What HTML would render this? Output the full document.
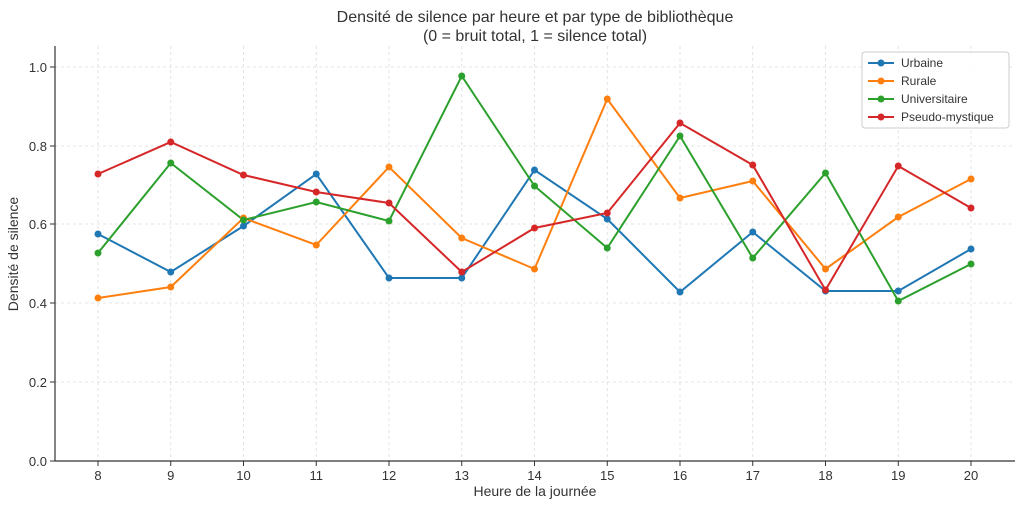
<!DOCTYPE html>
<html><head><meta charset="utf-8"><style>
html,body{margin:0;padding:0;background:#fff;}
svg{display:block;font-family:"Liberation Sans","DejaVu Sans",sans-serif;}
</style></head><body>
<svg width="1023" height="505" viewBox="0 0 1023 505" xmlns="http://www.w3.org/2000/svg">
<rect width="1023" height="505" fill="#fff"/>
<g stroke="#dcdcdc" stroke-width="0.8" stroke-dasharray="3,3">
<line x1="98" y1="46" x2="98" y2="461"/><line x1="170.75" y1="46" x2="170.75" y2="461"/><line x1="243.5" y1="46" x2="243.5" y2="461"/><line x1="316.25" y1="46" x2="316.25" y2="461"/><line x1="389" y1="46" x2="389" y2="461"/><line x1="461.75" y1="46" x2="461.75" y2="461"/><line x1="534.5" y1="46" x2="534.5" y2="461"/><line x1="607.25" y1="46" x2="607.25" y2="461"/><line x1="680" y1="46" x2="680" y2="461"/><line x1="752.75" y1="46" x2="752.75" y2="461"/><line x1="825.5" y1="46" x2="825.5" y2="461"/><line x1="898.25" y1="46" x2="898.25" y2="461"/><line x1="971" y1="46" x2="971" y2="461"/>
<line x1="55" y1="67" x2="1015" y2="67"/><line x1="55" y1="146" x2="1015" y2="146"/><line x1="55" y1="224" x2="1015" y2="224"/><line x1="55" y1="303" x2="1015" y2="303"/><line x1="55" y1="382" x2="1015" y2="382"/>
</g>
<g stroke="#333" stroke-width="1.2" fill="none">
<line x1="55" y1="46" x2="55" y2="461"/><line x1="55" y1="461" x2="1015" y2="461"/>
</g>
<g stroke="#333" stroke-width="1">
<line x1="98" y1="461" x2="98" y2="466"/><line x1="170.75" y1="461" x2="170.75" y2="466"/><line x1="243.5" y1="461" x2="243.5" y2="466"/><line x1="316.25" y1="461" x2="316.25" y2="466"/><line x1="389" y1="461" x2="389" y2="466"/><line x1="461.75" y1="461" x2="461.75" y2="466"/><line x1="534.5" y1="461" x2="534.5" y2="466"/><line x1="607.25" y1="461" x2="607.25" y2="466"/><line x1="680" y1="461" x2="680" y2="466"/><line x1="752.75" y1="461" x2="752.75" y2="466"/><line x1="825.5" y1="461" x2="825.5" y2="466"/><line x1="898.25" y1="461" x2="898.25" y2="466"/><line x1="971" y1="461" x2="971" y2="466"/>
<line x1="50" y1="67" x2="55" y2="67"/><line x1="50" y1="146" x2="55" y2="146"/><line x1="50" y1="224" x2="55" y2="224"/><line x1="50" y1="303" x2="55" y2="303"/><line x1="50" y1="382" x2="55" y2="382"/><line x1="50" y1="461" x2="55" y2="461"/>
</g>
<g font-size="13" fill="#333" text-anchor="middle">
<text x="98" y="480">8</text><text x="170.75" y="480">9</text><text x="243.5" y="480">10</text><text x="316.25" y="480">11</text><text x="389" y="480">12</text><text x="461.75" y="480">13</text><text x="534.5" y="480">14</text><text x="607.25" y="480">15</text><text x="680" y="480">16</text><text x="752.75" y="480">17</text><text x="825.5" y="480">18</text><text x="898.25" y="480">19</text><text x="971" y="480">20</text>
</g>
<g font-size="13" fill="#333" text-anchor="end">
<text x="47" y="72">1.0</text><text x="47" y="151">0.8</text><text x="47" y="229">0.6</text><text x="47" y="308">0.4</text><text x="47" y="387">0.2</text><text x="47" y="466">0.0</text>
</g>
<text x="535" y="496" font-size="14" fill="#333" text-anchor="middle">Heure de la journée</text>
<text x="18" y="254" font-size="14" fill="#333" text-anchor="middle" transform="rotate(-90 18 254)">Densité de silence</text>
<text x="535" y="22" font-size="16" fill="#333" text-anchor="middle">Densité de silence par heure et par type de bibliothèque</text>
<text x="535" y="41" font-size="16" fill="#333" text-anchor="middle">(0 = bruit total, 1 = silence total)</text>
<g fill="none" stroke-width="2">
<polyline stroke="#1f77b4" points="98,234 170.75,272 243.5,226 316.25,174 389,278 461.75,278 534.5,170 607.25,219 680,292 752.75,232 825.5,291 898.25,291 971,249"/>
<polyline stroke="#ff7f0e" points="98,298 170.75,287 243.5,218 316.25,245 389,167 461.75,238 534.5,269 607.25,99 680,198 752.75,181 825.5,269 898.25,217 971,179"/>
<polyline stroke="#2ca02c" points="98,253 170.75,163 243.5,220 316.25,202 389,221 461.75,76 534.5,186 607.25,248 680,136 752.75,258 825.5,173 898.25,301 971,264"/>
<polyline stroke="#d62728" points="98,174 170.75,142 243.5,175 316.25,192 389,203 461.75,272 534.5,228 607.25,213 680,123 752.75,165 825.5,290 898.25,166 971,208"/>
</g>
<g fill="#1f77b4"><circle cx="98" cy="234" r="3.5"/><circle cx="170.75" cy="272" r="3.5"/><circle cx="243.5" cy="226" r="3.5"/><circle cx="316.25" cy="174" r="3.5"/><circle cx="389" cy="278" r="3.5"/><circle cx="461.75" cy="278" r="3.5"/><circle cx="534.5" cy="170" r="3.5"/><circle cx="607.25" cy="219" r="3.5"/><circle cx="680" cy="292" r="3.5"/><circle cx="752.75" cy="232" r="3.5"/><circle cx="825.5" cy="291" r="3.5"/><circle cx="898.25" cy="291" r="3.5"/><circle cx="971" cy="249" r="3.5"/></g>
<g fill="#ff7f0e"><circle cx="98" cy="298" r="3.5"/><circle cx="170.75" cy="287" r="3.5"/><circle cx="243.5" cy="218" r="3.5"/><circle cx="316.25" cy="245" r="3.5"/><circle cx="389" cy="167" r="3.5"/><circle cx="461.75" cy="238" r="3.5"/><circle cx="534.5" cy="269" r="3.5"/><circle cx="607.25" cy="99" r="3.5"/><circle cx="680" cy="198" r="3.5"/><circle cx="752.75" cy="181" r="3.5"/><circle cx="825.5" cy="269" r="3.5"/><circle cx="898.25" cy="217" r="3.5"/><circle cx="971" cy="179" r="3.5"/></g>
<g fill="#2ca02c"><circle cx="98" cy="253" r="3.5"/><circle cx="170.75" cy="163" r="3.5"/><circle cx="243.5" cy="220" r="3.5"/><circle cx="316.25" cy="202" r="3.5"/><circle cx="389" cy="221" r="3.5"/><circle cx="461.75" cy="76" r="3.5"/><circle cx="534.5" cy="186" r="3.5"/><circle cx="607.25" cy="248" r="3.5"/><circle cx="680" cy="136" r="3.5"/><circle cx="752.75" cy="258" r="3.5"/><circle cx="825.5" cy="173" r="3.5"/><circle cx="898.25" cy="301" r="3.5"/><circle cx="971" cy="264" r="3.5"/></g>
<g fill="#d62728"><circle cx="98" cy="174" r="3.5"/><circle cx="170.75" cy="142" r="3.5"/><circle cx="243.5" cy="175" r="3.5"/><circle cx="316.25" cy="192" r="3.5"/><circle cx="389" cy="203" r="3.5"/><circle cx="461.75" cy="272" r="3.5"/><circle cx="534.5" cy="228" r="3.5"/><circle cx="607.25" cy="213" r="3.5"/><circle cx="680" cy="123" r="3.5"/><circle cx="752.75" cy="165" r="3.5"/><circle cx="825.5" cy="290" r="3.5"/><circle cx="898.25" cy="166" r="3.5"/><circle cx="971" cy="208" r="3.5"/></g>
<rect x="862" y="52" width="147" height="76" rx="3" fill="#fff" fill-opacity="0.85" stroke="#ccc"/>
<g stroke-width="2">
<line x1="868" y1="63" x2="894" y2="63" stroke="#1f77b4"/><circle cx="881" cy="63" r="3.5" fill="#1f77b4"/>
<line x1="868" y1="81" x2="894" y2="81" stroke="#ff7f0e"/><circle cx="881" cy="81" r="3.5" fill="#ff7f0e"/>
<line x1="868" y1="99" x2="894" y2="99" stroke="#2ca02c"/><circle cx="881" cy="99" r="3.5" fill="#2ca02c"/>
<line x1="868" y1="117" x2="894" y2="117" stroke="#d62728"/><circle cx="881" cy="117" r="3.5" fill="#d62728"/>
</g>
<g font-size="12" fill="#333">
<text x="901" y="67">Urbaine</text><text x="901" y="85">Rurale</text><text x="901" y="103">Universitaire</text><text x="901" y="121">Pseudo-mystique</text>
</g>
</svg>
</body></html>
